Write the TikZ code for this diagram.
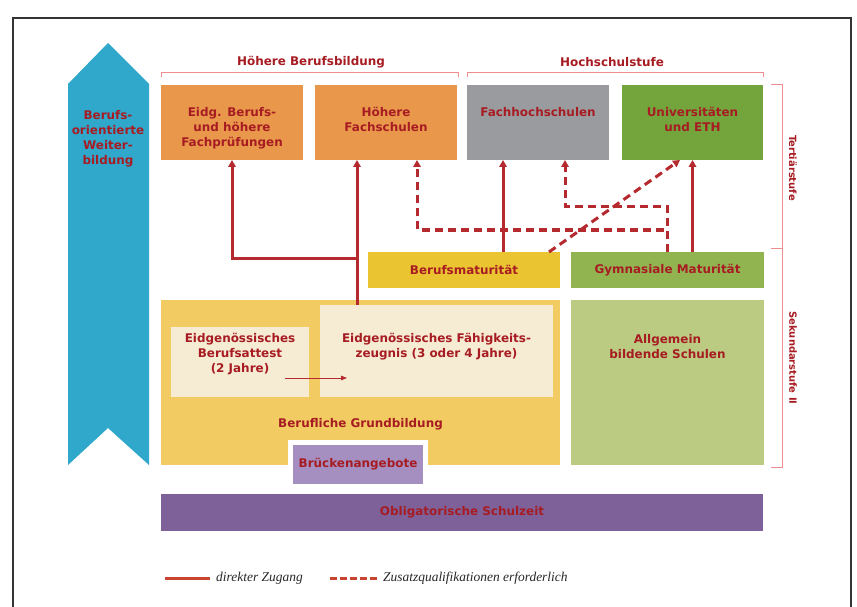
\documentclass[tikz,border=0pt]{standalone}
\usepackage{fontspec}
\setmainfont{Liberation Serif}
\setsansfont{DejaVu Sans}
\usetikzlibrary{arrows.meta,positioning,calc}
\definecolor{dred}{RGB}{167,28,34}
\definecolor{conn}{RGB}{181,42,46}
\definecolor{brkpink}{RGB}{238,142,142}
\definecolor{legred}{RGB}{201,69,47}
\definecolor{skyb}{RGB}{47,168,204}
\definecolor{orng}{RGB}{232,151,75}
\definecolor{greyb}{RGB}{154,155,159}
\definecolor{grn}{RGB}{115,165,60}
\definecolor{mgold}{RGB}{235,196,49}
\definecolor{mgreen}{RGB}{145,180,80}
\definecolor{lgold}{RGB}{242,204,99}
\definecolor{cream}{RGB}{246,235,211}
\definecolor{lgreen}{RGB}{187,203,130}
\definecolor{lpurple}{RGB}{165,142,192}
\definecolor{dpurple}{RGB}{125,97,152}

\begin{document}
\begin{tikzpicture}[x=1bp,y=-1bp,
 box/.style={minimum width=142bp,minimum height=75bp,inner sep=0pt,outer sep=0pt,
  font=\sffamily\bfseries\fontsize{12}{15}\selectfont,text=dred,align=center},
 lbl/.style={font=\sffamily\bfseries\fontsize{12}{15}\selectfont,text=dred,align=center,inner sep=0pt},
 side/.style={lbl,font=\sffamily\bfseries\fontsize{10}{12}\selectfont,rotate=-90},
 dir/.style={-{Triangle[length=7bp,width=7.5bp]},line width=3bp,draw=conn},
 zus/.style={dir,dash pattern=on 8bp off 5bp},
 small/.style={-{Triangle[length=6bp,width=4.5bp]},line width=0.8bp,draw=conn},
 brk/.style={draw=brkpink,line width=0.9bp},
 leg/.style={line width=3bp,draw=legred},
 legt/.style={font=\itshape\fontsize{13.5}{15}\selectfont,text=black!85,inner sep=0pt}]
\useasboundingbox (0,0) rectangle (857,607);
\draw[line width=1.3bp,draw=black!80] (13,620) |- (851,18) -- (851,620);
\fill[skyb] (68,84) -- (108,43) -- (149,84) -- (149,465) -- (108,428) -- (68,465) -- cycle;
\node[lbl,anchor=north] (wb) at (108,110) {Berufs-\\orientierte\\Weiter-\\bildung};
\node[lbl] (hb) at (311,62) {Höhere Berufsbildung};
\node[lbl] (hs) at (612,62) {Hochschulstufe};
\draw[brk] (161,77) |- (458,72) -- (458,77);
\draw[brk] (467,77) |- (763,72) -- (763,77);
\draw[brk] (771,84) -| (782,467) -- (771,467); \draw[brk] (771,248) -- (782,248);
\node[side] (ts) at (793,168) {Tertiärstufe};
\node[side] (s2) at (793,358) {Sekundarstufe II};
\node[box,fill=orng] (eidg) at (232,122.5) {};
\node[box,fill=orng] (hfs) at (386,122.5) {};
\node[box,fill=greyb] (fh) at (538,122.5) {};
\node[box,fill=grn,minimum width=141bp] (uni) at (692.5,122.5) {};
\node[lbl,below=22bp of eidg.north] (eidg-t) {Eidg. Berufs-\\und höhere\\Fachprüfungen};
\node[lbl,below=22bp of hfs.north] (hfs-t) {Höhere\\Fachschulen};
\node[lbl,below=22bp of fh.north] (fh-t) {Fachhochschulen};
\node[lbl,below=22bp of uni.north] (uni-t) {Universitäten\\und ETH};
\node[box,fill=mgold,minimum width=192bp,minimum height=36bp] (bm) at (464,270) {Berufsmaturität};
\node[box,fill=mgreen,minimum width=193bp,minimum height=36bp] (gm) at (667.5,270) {Gymnasiale Maturität};
\node[box,fill=lgold,minimum width=399bp,minimum height=165bp] (grund) at (360.5,382.5) {};
\node[box,fill=cream,minimum width=138bp,minimum height=70bp] (eba) at (240,362) {};
\node[box,fill=cream,minimum width=233bp,minimum height=92bp] (efz) at (436.5,351) {};
\node[box,fill=lgreen,minimum width=193bp,minimum height=165bp] (allg) at (667.5,382.5) {};
\node[lbl,below=6bp of eba.north] (eba-t) {Eidgenössisches\\Berufsattest\\(2 Jahre)};
\node[lbl,below=28bp of efz.north] (efz-t) {Eidgenössisches Fähigkeits-\\zeugnis (3 oder 4 Jahre)};
\node[lbl,below=34bp of allg.north] (allg-t) {Allgemein\\bildende Schulen};
\node[lbl,above=35bp of grund.south] (grund-t) {Berufliche Grundbildung};
\node[box,fill=lpurple,draw=white,line width=5bp,minimum width=135bp,minimum height=44bp] (brueck) at (358,464.5) {Brückenangebote};
\node[box,fill=dpurple,minimum width=602bp,minimum height=37bp] (oblig) at (462,512.5) {Obligatorische Schulzeit};
\draw[small] ($(eba.east)+(-24,16)$) -- ($(efz.west)+(27,27)$);
\coordinate (j) at (357,258); \coordinate (xb) at (503,0);
\coordinate (d1) at (417,230); \coordinate (d2) at (565,207);
\draw[dir] (efz.north -| j) -- (hfs.south -| j); \draw[dir] (j) -| (eidg.south);
\draw[dir] (bm.north -| xb) -- (fh.south -| xb);
\draw[dir] (gm.north -| uni.south) -- (uni.south);
\draw[zus] (gm.north) |- (d1) -- (hfs.south -| d1);
\draw[zus] (gm.north) |- (d2) -- (fh.south -| d2);
\draw[zus] ($(bm.north east)+(-11,0)$) -- ($(uni.south west)+(58,0)$);
\coordinate (la) at (165,578); \coordinate (lb) at (210,578);
\coordinate (lc) at (330,578); \coordinate (ld) at (378,578);
\draw[leg] (la) -- (lb); \draw[leg,dash pattern=on 7bp off 3bp] (lc) -- (ld);
\node[legt,right=6bp of lb] (lt1) {direkter Zugang};
\node[legt,right=5bp of ld] (lt2) {Zusatzqualifikationen erforderlich};
\end{tikzpicture}
\end{document}
